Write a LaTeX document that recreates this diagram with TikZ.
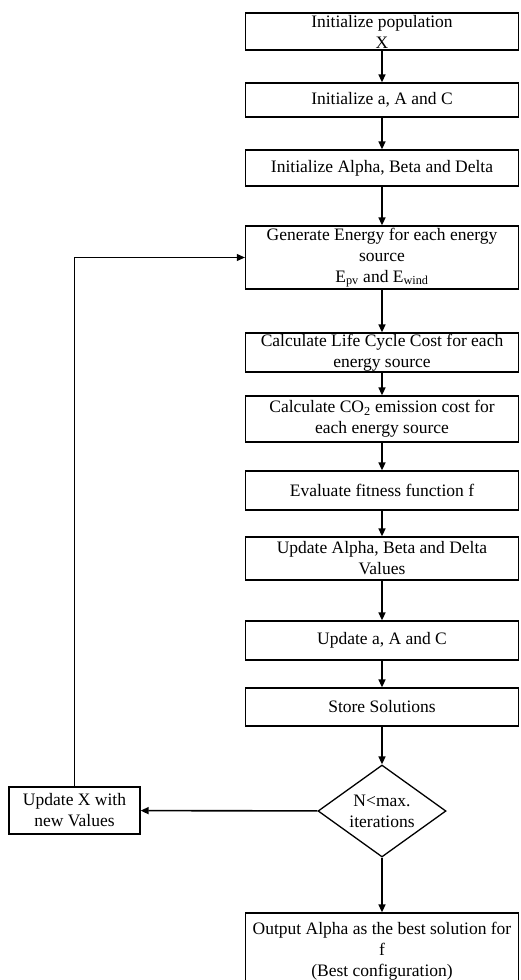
\documentclass[tikz,border=0pt]{standalone}
\usepackage{fontspec}
\setmainfont{Liberation Serif}
\usetikzlibrary{arrows.meta,shapes.geometric}

\tikzset{
	procbox/.style={draw, line width=1.3pt, minimum width=273pt, inner sep=0pt, align=center, font=\fontsize{17.5}{21}\selectfont},
	flow/.style={-{Triangle[width=7pt,length=8pt]}, line width=1.6pt},
	thinflow/.style={-{Triangle[width=7pt,length=8pt]}, line width=0.9pt}
}

\begin{document}
\begin{tikzpicture}[x=1pt,y=-1pt]
	\useasboundingbox (0,0) rectangle (520,980);

	\node[procbox, minimum height=37pt] (init) at (382,31.5) {Initialize population\\X};
	\node[procbox, minimum height=34pt] (coef) at (382,100) {Initialize a, A and C};
	\node[procbox, minimum height=36pt] (wolves) at (382,168) {Initialize Alpha, Beta and Delta};
	\node[procbox, minimum height=63pt] (gen) at (382,257.5) {Generate Energy for each energy\\source\\E\textsubscript{pv} and E\textsubscript{wind}};
	\node[procbox, minimum height=39pt] (lcc) at (382,352.5) {Calculate Life Cycle Cost for each\\energy source};
	\node[procbox, minimum height=46pt] (co2) at (382,419) {Calculate CO\textsubscript{2} emission cost for\\each energy source};
	\node[procbox, minimum height=39pt] (eval) at (382,490.5) {Evaluate fitness function f};
	\node[procbox, minimum height=43pt] (updw) at (382,558.5) {Update Alpha, Beta and Delta\\Values};
	\node[procbox, minimum height=39pt] (updc) at (382,640.5) {Update a, A and C};
	\node[procbox, minimum height=38pt] (store) at (382,707) {Store Solutions};
	\node[draw, diamond, aspect=1.4, line width=1.3pt, inner sep=0pt, minimum width=128pt, minimum height=92pt,
		align=center, font=\fontsize{17.5}{21}\selectfont] (check) at (382,811) {N<max.\\iterations};
	\node[procbox, minimum width=131pt, minimum height=47pt] (updx) at (74.5,810.5) {Update X with\\new Values};
	\node[procbox, minimum height=76pt] (out) at (382,951) {Output Alpha as the best solution for\\f\\(Best configuration)};

	\draw[flow] (init) -- (coef);
	\draw[flow] (coef) -- (wolves);
	\draw[flow] (wolves) -- (gen);
	\draw[flow] (gen) -- (lcc);
	\draw[flow] (lcc) -- (co2);
	\draw[flow] (co2) -- (eval);
	\draw[flow] (eval) -- (updw);
	\draw[flow] (updw) -- (updc);
	\draw[flow] (updc) -- (store);
	\draw[flow] (store) -- (check);
	\draw[flow] (check) -- (out);
	\draw[flow] (check) -- (updx);
	\draw[thinflow] (updx.north) |- (gen.west);
\end{tikzpicture}
\end{document}
